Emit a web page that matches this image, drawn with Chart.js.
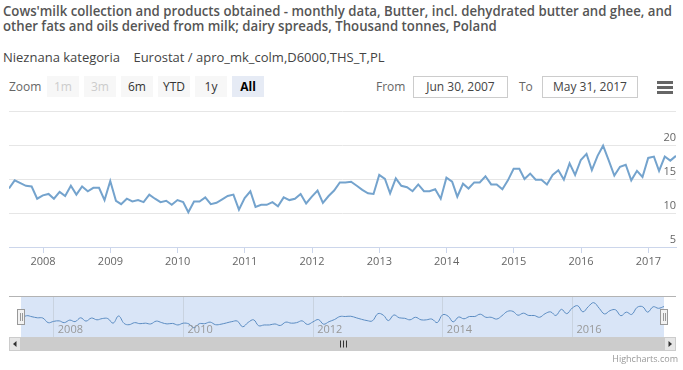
<!DOCTYPE html>
<html>
<head>
<meta charset="utf-8">
<script src="https://cdn.jsdelivr.net/npm/chart.js@4.4.1/dist/chart.umd.min.js"></script>
<style>
    body { margin: 0; background: #fff; font-family: 'Open Sans', sans-serif; }
    #wrap { position: relative; width: 683px; height: 370px; overflow: hidden; }
    .abs { position: absolute; white-space: nowrap; }
    #title { left: 3px; top: 3px; font-size: 14px; font-weight: 600; color: #555; line-height: 15px; }
    #title span { display: block; transform-origin: 0 0; width: max-content; }
    #subtitle { left: 3px; top: 48px; font-size: 13px; color: #444; }
    .zoomlbl { left: 9px; top: 78px; font-size: 12px; color: #666; }
    .btn { top: 76px; width: 32px; height: 21px; line-height: 21px; text-align: center; font-size: 12px; background: #f7f7f7; color: #333; }
    .btn.off { color: #cccccc; }
    .btn.sel { background: #e6ebf5; color: #000; font-weight: 700; }
    .lbl { top: 78px; font-size: 12px; color: #666; }
    .box { top: 76px; height: 20px; line-height: 20px; border: 1px solid #cccccc; font-size: 12px; color: #444; text-align: center; }
    .bar { left: 657px; width: 16px; height: 3px; background: #666; }
    #credit { right: 5px; top: 352px; font-size: 9px; color: #999; }
    canvas { position: absolute; left: 0; }
</style>
</head>
<body>
<div id="wrap">
    <div id="title" class="abs"><span id="t1">Cows'milk collection and products obtained - monthly data, Butter, incl. dehydrated butter and ghee, and</span><span id="t2">other fats and oils derived from milk; dairy spreads, Thousand tonnes, Poland</span></div>
    <div id="subtitle" class="abs">Nieznana kategoria&nbsp;&nbsp;&nbsp;&nbsp;Eurostat / apro_mk_colm,D6000,THS_T,PL</div>

    <div class="abs zoomlbl">Zoom</div>
    <div class="abs btn off" style="left:47px">1m</div>
    <div class="abs btn off" style="left:84px">3m</div>
    <div class="abs btn" style="left:121px">6m</div>
    <div class="abs btn" style="left:158px">YTD</div>
    <div class="abs btn" style="left:195px">1y</div>
    <div class="abs btn sel" style="left:232px">All</div>

    <div class="abs lbl" style="left:376px">From</div>
    <div class="abs box" style="left:413px;width:93px">Jun 30, 2007</div>
    <div class="abs lbl" style="left:519px">To</div>
    <div class="abs box" style="left:542px;width:94px">May 31, 2017</div>
    <div class="abs bar" style="top:81px"></div>
    <div class="abs bar" style="top:86px"></div>
    <div class="abs bar" style="top:91px"></div>

    <canvas id="mainChart" width="683" height="175" style="top:100px"></canvas>
    <canvas id="navChart" width="683" height="70" style="top:290px"></canvas>
    <div id="credit" class="abs">Highcharts.com</div>
</div>

<script>
// Butter production, thousand tonnes (month-end values)
const values2007 = [13.6, 14.8, 14.4, 14.0, 13.9, 12.1, 12.6]; // Jun - Dec
const values2008 = [12.8, 12.1, 13.1, 12.5, 14.0, 12.7, 13.9, 13.2, 13.7, 13.7, 11.9, 14.7];
const values2009 = [11.8, 11.3, 12.1, 11.7, 11.9, 11.6, 12.7, 12.1, 11.6, 11.8, 11.2, 11.9];
const values2010 = [11.6, 10.1, 11.7, 11.7, 12.3, 11.3, 11.5, 12.0, 12.5, 12.7, 10.5, 12.2];
const values2011 = [13.2, 10.9, 11.2, 11.2, 11.6, 11.0, 12.3, 11.9, 12.1, 12.8, 11.4, 12.4];
const values2012 = [13.3, 11.5, 12.5, 13.3, 14.5, 14.5, 14.6, 14.0, 13.4, 12.9, 12.8, 15.6];
const values2013 = [15.0, 12.9, 15.1, 14.0, 13.8, 13.2, 14.2, 13.2, 13.2, 13.5, 12.1, 15.2];
const values2014 = [14.6, 12.4, 14.3, 13.6, 14.5, 14.5, 15.4, 14.2, 14.2, 13.5, 14.8, 16.5];
const values2015 = [16.5, 15.0, 15.8, 14.9, 14.9, 14.2, 15.6, 16.3, 14.9, 17.3, 15.6, 17.8];
const values2016 = [18.7, 16.3, 18.4, 19.9, 17.7, 15.5, 16.8, 17.1, 14.8, 16.2, 15.3, 18.1];
const values2017 = [18.3, 16.2, 18.3, 17.7, 18.4]; // Jan - May

const yearTicks = [2008, 2009, 2010, 2011, 2012, 2013, 2014, 2015, 2016, 2017];
const navYearTicks = [2008, 2010, 2012, 2014, 2016];
const yTicks = [5, 10, 15, 20, 25];

// Serie: primer mes junio 2007, cada punto al último día del mes
const series = [values2007, values2008, values2009, values2010, values2011, values2012,
    values2013, values2014, values2015, values2016, values2017];
const points = [];
series.forEach((vals, i) => {
    const year = 2007 + i;
    const firstMonth = i === 0 ? 5 : 0;
    vals.forEach((v, j) => {
        points.push({ x: Date.UTC(year, firstMonth + j + 1, 0), y: v });
    });
});

const xMin = Date.UTC(2007, 5, 30);
const xMax = Date.UTC(2017, 4, 31);

// El título original es más estrecho: ajustamos la primera línea a su ancho
const t1 = document.getElementById('t1');
const t2 = document.getElementById('t2');
const k = 669 / t1.getBoundingClientRect().width;
t1.style.transform = `scaleX(${k})`;
t2.style.transform = `scaleX(${k})`;

Chart.defaults.font.family = "'Open Sans', sans-serif";
Chart.defaults.animation = false;

const yearLabel = (v) => new Date(v).getUTCFullYear();

new Chart(document.getElementById('mainChart'), {
    type: 'line',
    data: {
        datasets: [{
            data: points,
            borderColor: '#74a3cd',
            borderWidth: 2,
            pointRadius: 0,
            tension: 0
        }]
    },
    options: {
        responsive: false,
        layout: { padding: { left: 9, right: 7, top: 11, bottom: 0 } },
        plugins: { legend: { display: false }, tooltip: { enabled: false } },
        scales: {
            x: {
                type: 'linear',
                min: xMin,
                max: xMax,
                afterBuildTicks: (s) => { s.ticks = yearTicks.map(y => ({ value: Date.UTC(y, 0, 1) })); },
                afterFit: (s) => { s.height = 28; },
                ticks: { callback: yearLabel, color: '#666', font: { size: 11 }, padding: 2, maxRotation: 0, autoSkip: false },
                grid: { drawOnChartArea: false, drawTicks: true, tickLength: 6, color: '#ccd6eb' },
                border: { display: true, color: '#ccd6eb' }
            },
            y: {
                position: 'right',
                min: 5,
                max: 25,
                afterBuildTicks: (s) => { s.ticks = yTicks.map(v => ({ value: v })); },
                afterFit: (s) => { s.width = 0; },
                ticks: {
                    mirror: true, padding: 0, labelOffset: -7, color: '#666', font: { size: 11 },
                    callback: (v) => v === 25 ? '' : v
                },
                grid: { color: '#e6e6e6', drawTicks: false },
                border: { display: false }
            }
        }
    }
});

// Navegador + barra de scroll (al estilo Highstock)
const navDecor = {
    id: 'navDecor',
    beforeDraw(chart) {
        const { ctx, chartArea: a } = chart;
        ctx.save();
        ctx.fillStyle = 'rgba(102, 153, 225, 0.25)';
        ctx.fillRect(a.left, a.top, a.right - a.left, a.bottom - a.top);
        ctx.restore();
    },
    afterDatasetsDraw(chart) {
        // etiquetas de años dentro del navegador
        const { ctx, chartArea: a, scales } = chart;
        ctx.save();
        ctx.font = "11px 'Open Sans', sans-serif";
        ctx.fillStyle = '#999';
        ctx.textAlign = 'left';
        ctx.textBaseline = 'middle';
        navYearTicks.forEach(y => {
            const px = scales.x.getPixelForValue(Date.UTC(y, 0, 1));
            ctx.fillText(String(y), px + 4, a.bottom - 7);
        });
        ctx.restore();
    },
    afterDraw(chart) {
        const { ctx, chartArea: a } = chart;
        ctx.save();
        // contorno superior
        ctx.strokeStyle = '#b3b3b3';
        ctx.lineWidth = 1;
        ctx.beginPath();
        ctx.moveTo(9, a.top + 0.5);
        ctx.lineTo(676, a.top + 0.5);
        ctx.stroke();

        // scrollbar
        const sy = a.bottom, sh = 14;
        ctx.fillStyle = '#f2f2f2';
        ctx.fillRect(9, sy, 667, sh);
        ctx.fillStyle = '#cccccc';
        ctx.fillRect(a.left, sy, a.right - a.left, sh);
        [[9, -1], [a.right, 1]].forEach(([bx, dir]) => {
            ctx.fillStyle = '#e6e6e6';
            ctx.fillRect(bx, sy, 12, sh);
            ctx.strokeStyle = '#cccccc';
            ctx.strokeRect(bx + 0.5, sy + 0.5, 11, sh - 1);
            ctx.fillStyle = '#333';
            const cx = bx + 6, cy = sy + sh / 2;
            ctx.beginPath();
            ctx.moveTo(cx + 2 * dir, cy);
            ctx.lineTo(cx - 1.5 * dir, cy - 3);
            ctx.lineTo(cx - 1.5 * dir, cy + 3);
            ctx.closePath();
            ctx.fill();
        });
        const gx = Math.round((a.left + a.right) / 2);
        ctx.strokeStyle = '#333';
        [-3, 0, 3].forEach(d => {
            ctx.beginPath();
            ctx.moveTo(gx + d + 0.5, sy + 3.5);
            ctx.lineTo(gx + d + 0.5, sy + sh - 3.5);
            ctx.stroke();
        });

        // asas del selector
        const hy = Math.round((a.top + a.bottom) / 2) - 8;
        [a.left, a.right].forEach(hx => {
            const x0 = Math.round(hx) - 4;
            ctx.fillStyle = '#f2f2f2';
            ctx.fillRect(x0, hy, 8, 16);
            ctx.strokeStyle = '#999';
            ctx.strokeRect(x0 + 0.5, hy + 0.5, 7, 15);
            ctx.beginPath();
            ctx.moveTo(x0 + 3.5, hy + 4); ctx.lineTo(x0 + 3.5, hy + 12);
            ctx.moveTo(x0 + 5.5, hy + 4); ctx.lineTo(x0 + 5.5, hy + 12);
            ctx.stroke();
        });
        ctx.restore();
    }
};

new Chart(document.getElementById('navChart'), {
    type: 'line',
    data: {
        datasets: [{
            data: points,
            borderColor: '#5b8cc2',
            borderWidth: 1,
            pointRadius: 0,
            tension: 0.4
        }]
    },
    options: {
        responsive: false,
        layout: { padding: { left: 21, right: 19, top: 6, bottom: 23 } },
        plugins: { legend: { display: false }, tooltip: { enabled: false } },
        scales: {
            x: {
                type: 'linear',
                min: xMin,
                max: xMax,
                afterBuildTicks: (s) => { s.ticks = navYearTicks.map(y => ({ value: Date.UTC(y, 0, 1) })); },
                afterFit: (s) => { s.height = 0; },
                ticks: { display: false },
                grid: { drawOnChartArea: true, drawTicks: false, color: '#c9d3e0' },
                border: { display: false }
            },
            y: {
                display: false,
                min: 6.5,
                max: 22.5
            }
        }
    },
    plugins: [navDecor]
});
</script>
</body>
</html>
